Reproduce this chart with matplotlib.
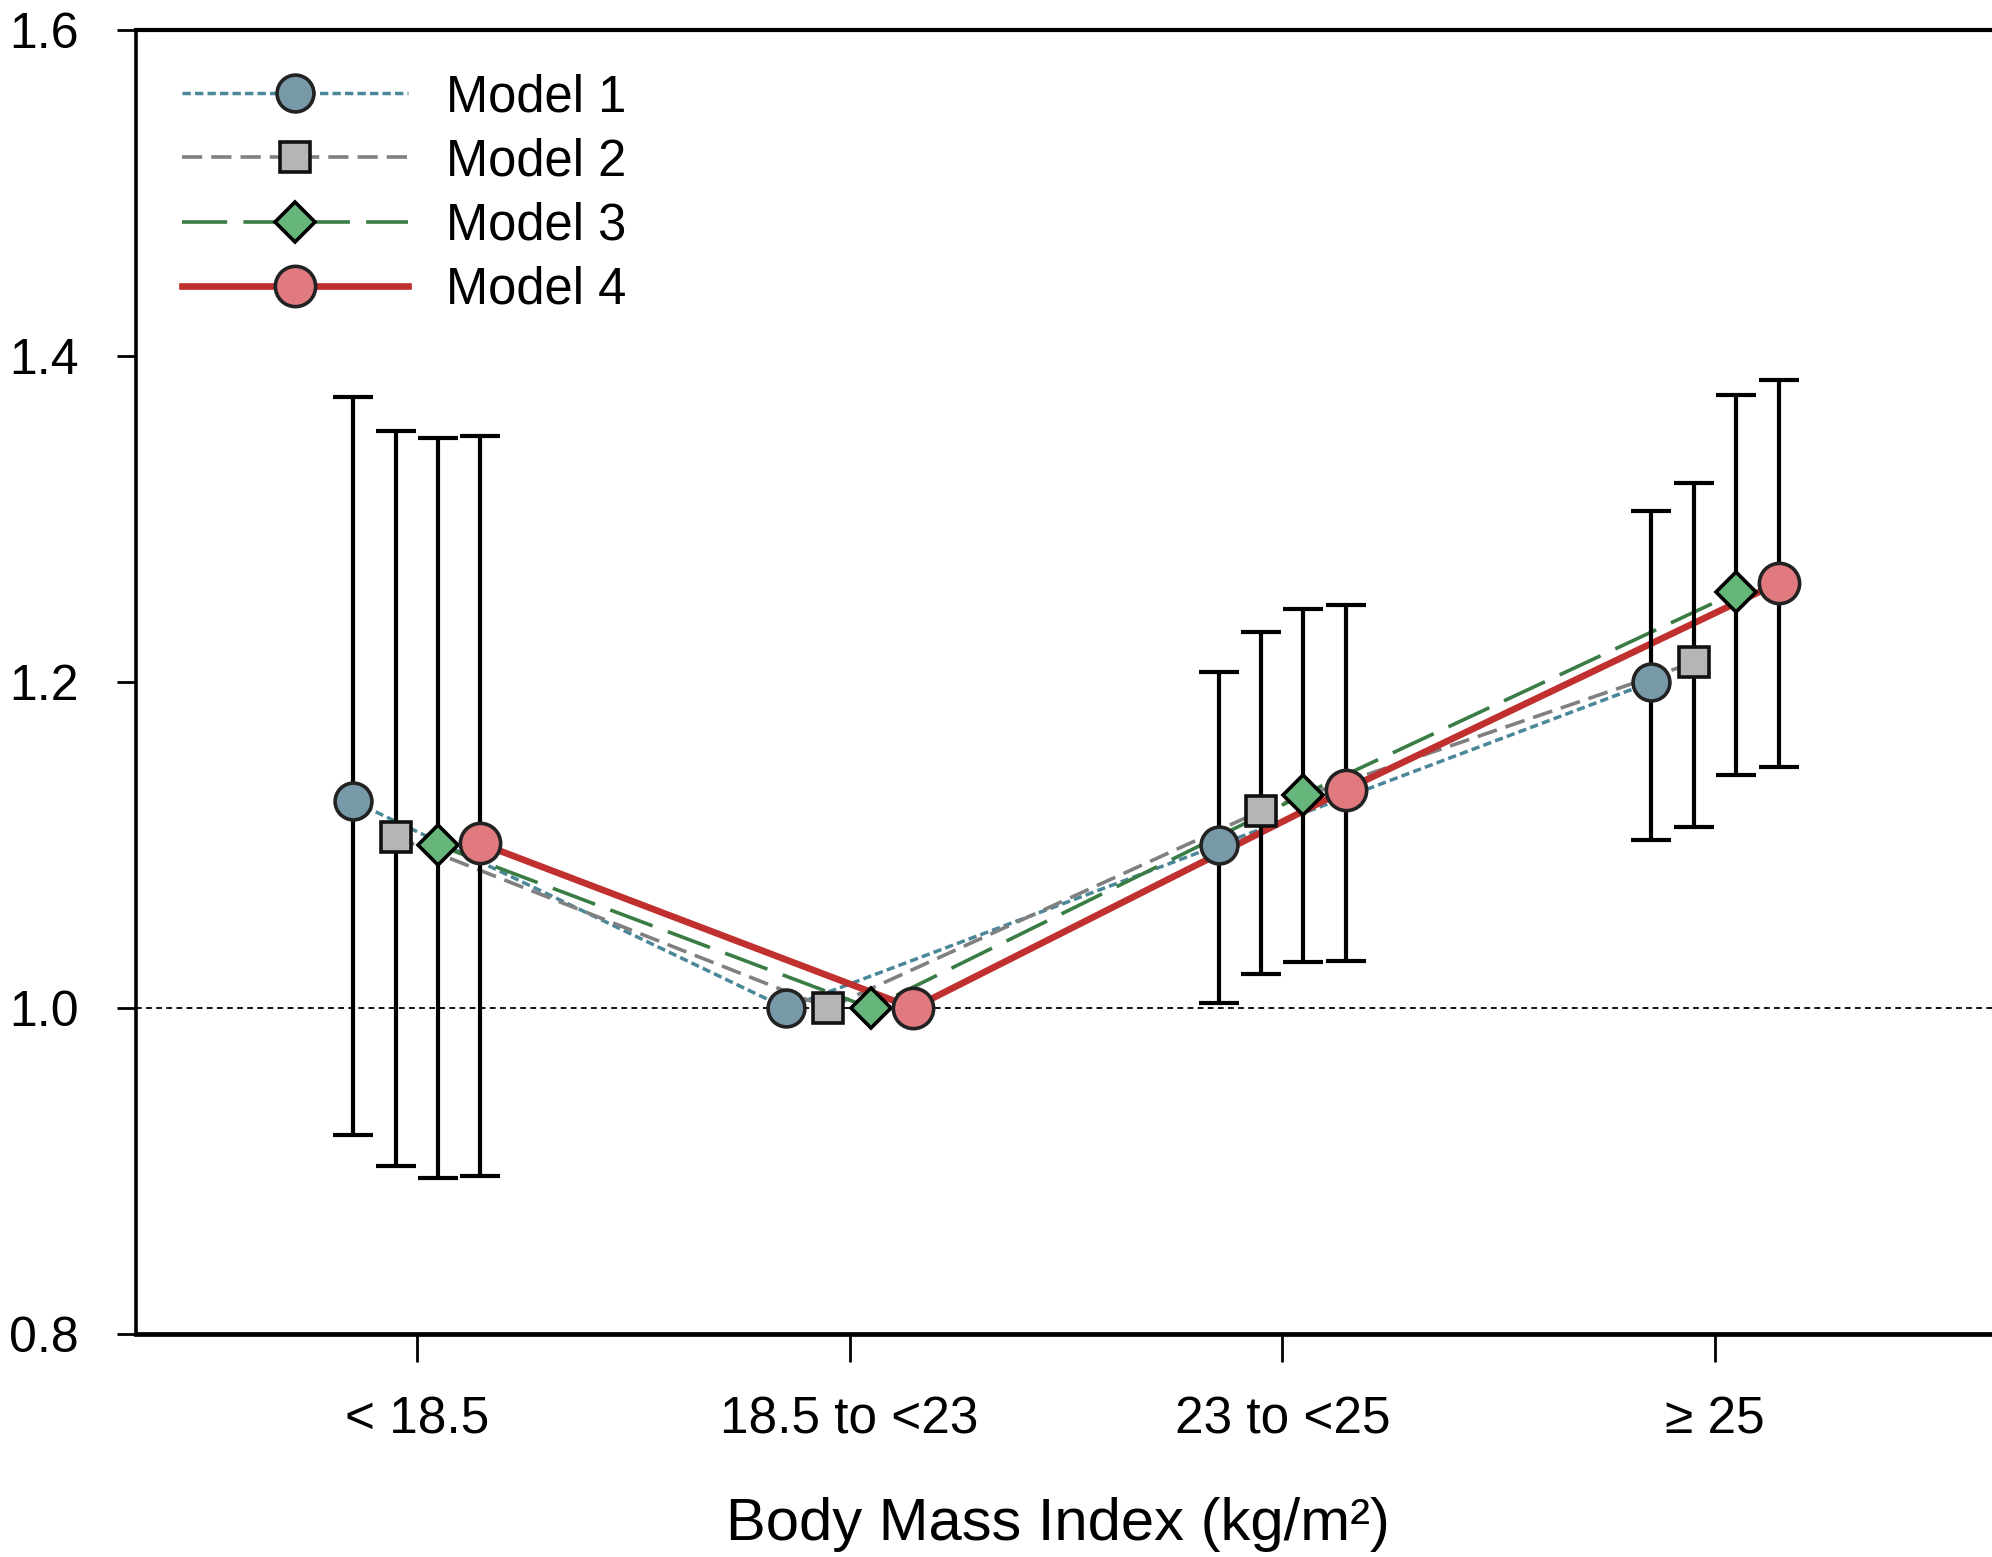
import numpy as np
import matplotlib
matplotlib.use("Agg")
import matplotlib.pyplot as plt
from matplotlib.lines import Line2D

plt.rcParams['font.family'] = ['Liberation Sans', 'DejaVu Sans']

# BMI categories and odds ratios (95% CI) for each model
categories = ['< 18.5', '18.5 to <23', '23 to <25', '\u2265 25']
models = ['Model 1', 'Model 2', 'Model 3', 'Model 4']

m1_or = [1.127, 1.0, 1.100, 1.200]
m1_lo = [0.922, np.nan, 1.003, 1.103]
m1_hi = [1.375, np.nan, 1.206, 1.305]

m2_or = [1.105, 1.0, 1.121, 1.212]
m2_lo = [0.903, np.nan, 1.021, 1.111]
m2_hi = [1.354, np.nan, 1.231, 1.322]

m3_or = [1.100, 1.0, 1.131, 1.255]
m3_lo = [0.896, np.nan, 1.028, 1.143]
m3_hi = [1.350, np.nan, 1.245, 1.376]

m4_or = [1.101, 1.0, 1.134, 1.261]
m4_lo = [0.897, np.nan, 1.029, 1.148]
m4_hi = [1.351, np.nan, 1.247, 1.385]

# styling per model
offsets = [-0.147, -0.049, 0.049, 0.147]
line_colors = ['#4a8799', '#808080', '#3a7d44', '#c0302f']
face_colors = ['#7799a8', '#b5b5b7', '#66b57a', '#e07a7f']
edge_colors = ['#222222', '#111111', '#000000', '#222222']
markers = ['o', 's', 'D', 'o']
msizes = [26.5, 21, 20, 29]
lwidths = [2.5, 2.6, 2.6, 4.8]
lstyles = [(0, (2.4, 1.2)), (0, (5.6, 2.5)), (0, (12.5, 4.5)), '-']

ors = [m1_or, m2_or, m3_or, m4_or]
los = [m1_lo, m2_lo, m3_lo, m4_lo]
his = [m1_hi, m2_hi, m3_hi, m4_hi]

fig = plt.figure(figsize=(19.92, 15.57), dpi=100)
ax = fig.add_axes([0.0683, 0.1432, 1 - 0.0683, 0.9807 - 0.1432])

x = np.arange(len(categories))

ax.axhline(1.0, color='black', lw=1.3, ls=(0, (3.2, 2.4)), zorder=1)

handles = []
for i in range(4):
    xs = x + offsets[i]
    y = np.array(ors[i])
    lo = np.array(los[i])
    hi = np.array(his[i])
    ax.plot(xs, y, color=line_colors[i], lw=lwidths[i], ls=lstyles[i], zorder=2)
    ok = ~np.isnan(lo)
    ax.errorbar(xs[ok], y[ok], yerr=[y[ok] - lo[ok], hi[ok] - y[ok]], fmt='none',
                ecolor='black', elinewidth=3.0, capsize=14.5, capthick=3.0, zorder=3)
    ax.plot(xs, y, ls='none', marker=markers[i], ms=msizes[i], mfc=face_colors[i],
            mec=edge_colors[i], mew=2.6, zorder=4 + i)
    handles.append(Line2D([], [], color=line_colors[i], lw=lwidths[i], ls=lstyles[i],
                          marker=markers[i], ms=msizes[i], mfc=face_colors[i],
                          mec=edge_colors[i], mew=2.6))

ax.set_xlim(-0.6486, 3.640)
ax.set_ylim(0.8, 1.6)
ax.set_xticks(x)
ax.set_xticklabels(categories)
ax.set_yticks([0.8, 1.0, 1.2, 1.4, 1.6])
ax.set_yticklabels(['%.1f' % v for v in [0.8, 1.0, 1.2, 1.4, 1.6]])

ax.spines['right'].set_visible(False)
ax.spines['left'].set_linewidth(2.6)
ax.spines['top'].set_linewidth(3.0)
ax.spines['bottom'].set_linewidth(3.4)
ax.tick_params(axis='y', direction='out', length=14, width=2.0, pad=27, labelsize=36)
ax.tick_params(axis='x', direction='out', length=20, width=2.0, pad=24, labelsize=37)

fig.text(1057.6 / 1992, 1 - 1524 / 1557, 'Body Mass Index (kg/m\u00b2)',
         ha='center', va='center', fontsize=43)

fig.legend(handles, models, loc='upper left', bbox_to_anchor=(182 / 1992, 1 - 73 / 1557),
           frameon=False, fontsize=36.5, handlelength=4.45, handletextpad=0.75,
           labelspacing=0.30, borderpad=0, borderaxespad=0)

fig.savefig('out.png', dpi=100)
